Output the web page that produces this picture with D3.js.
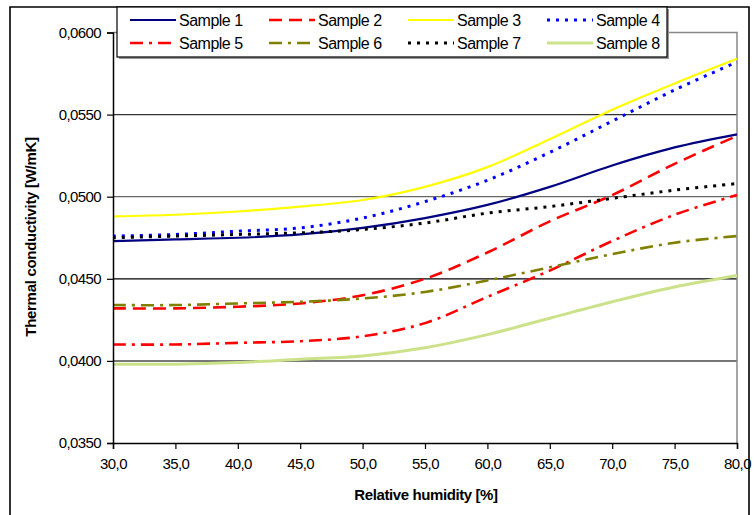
<!DOCTYPE html>
<html>
<head>
<meta charset="utf-8">
<style>
body { margin: 0; background: #fff; }
svg { font-family: "Liberation Sans", Arial, sans-serif; }
.tick text { font-size: 15px; fill: #000; }
</style>
</head>
<body>
<svg id="viz"></svg>
<script src="https://cdn.jsdelivr.net/npm/d3@7/dist/d3.min.js"></script>
<script>
var width = 754;
var height = 515;

// data
var humidity = [30, 35, 40, 45, 50, 55, 60, 65, 70, 75, 80];
var sampleNames = ["Sample 1", "Sample 2", "Sample 3", "Sample 4", "Sample 5", "Sample 6", "Sample 7", "Sample 8"];
var sample1 = [0.0473, 0.0474, 0.0475, 0.0477, 0.0481, 0.0487, 0.0495, 0.0506, 0.0519, 0.0530, 0.0538];
var sample2 = [0.0432, 0.0432, 0.0433, 0.0435, 0.0440, 0.0450, 0.0466, 0.0485, 0.0501, 0.0520, 0.0537];
var sample3 = [0.0488, 0.0489, 0.0491, 0.0494, 0.0498, 0.0506, 0.0518, 0.0535, 0.0553, 0.0569, 0.0584];
var sample4 = [0.0476, 0.0477, 0.0479, 0.0481, 0.0487, 0.0497, 0.0510, 0.0527, 0.0546, 0.0565, 0.0582];
var sample5 = [0.0410, 0.0410, 0.0411, 0.0412, 0.0415, 0.0423, 0.0439, 0.0455, 0.0473, 0.0489, 0.0501];
var sample6 = [0.0434, 0.0434, 0.0435, 0.0436, 0.0438, 0.0442, 0.0449, 0.0457, 0.0465, 0.0472, 0.0476];
var sample7 = [0.0475, 0.0476, 0.0477, 0.0478, 0.0480, 0.0484, 0.0490, 0.0494, 0.0499, 0.0504, 0.0508];
var sample8 = [0.0398, 0.0398, 0.0399, 0.0401, 0.0403, 0.0408, 0.0416, 0.0426, 0.0436, 0.0445, 0.0452];
var xTicks = [30, 35, 40, 45, 50, 55, 60, 65, 70, 75, 80];
var yTicks = [0.035, 0.040, 0.045, 0.050, 0.055, 0.060];

// styles
var colors = ["#000080", "#ff0000", "#ffff00", "#0000ff", "#ff0000", "#808000", "#000000", "#cce28a"];
var dashes = [null, "13,7", null, "3,6", "13,6,3,6", "13,6,3,6", "3,6", null];
var widths = [2.2, 2.6, 2.2, 3, 2.6, 2.6, 3, 3];

var allSamples = [sample1, sample2, sample3, sample4, sample5, sample6, sample7, sample8];

var svg = d3.select("#viz").attr("width", width).attr("height", height);

// outer chart frame
svg.append("path")
    .attr("d", "M10,515 L10,7 L749,7 L749,515")
    .attr("fill", "none")
    .attr("stroke", "#000")
    .attr("stroke-width", 1.6);

var plotL = 113, plotR = 737, plotT = 32.5, plotB = 443;

var x = d3.scaleLinear().domain([30, 80]).range([plotL, plotR]);
var y = d3.scaleLinear().domain([0.035, 0.060]).range([plotB, plotT]);

// gridlines
var gridColors = ["#777", "#000", "#666", "#333"];
svg.append("g").selectAll("line")
    .data(yTicks.slice(1, 5))
    .enter().append("line")
    .attr("x1", plotL).attr("x2", plotR)
    .attr("y1", function(d) { return y(d); })
    .attr("y2", function(d) { return y(d); })
    .attr("stroke", function(d, i) { return gridColors[i]; })
    .attr("stroke-width", function(d, i) { return i == 0 ? 2 : 1.3; });

// plot area top/right border
svg.append("path")
    .attr("d", "M" + plotL + "," + plotT + " L" + plotR + "," + plotT + " L" + plotR + "," + plotB)
    .attr("fill", "none")
    .attr("stroke", "#888")
    .attr("stroke-width", 1.5);

// series (smoothed like the spreadsheet)
var line = d3.line()
    .x(function(d, i) { return x(humidity[i]); })
    .y(function(d) { return y(d); })
    .curve(d3.curveCatmullRom.alpha(0.5));

svg.append("g").selectAll("path")
    .data(allSamples)
    .enter().append("path")
    .attr("d", line)
    .attr("fill", "none")
    .attr("stroke", function(d, i) { return colors[i]; })
    .attr("stroke-width", function(d, i) { return widths[i]; })
    .attr("stroke-dasharray", function(d, i) { return dashes[i]; });

// axes
var yAxis = d3.axisLeft(y)
    .tickValues(yTicks)
    .tickSize(6)
    .tickPadding(6)
    .tickFormat(function(d) { return d.toFixed(4).replace(".", ","); });

var xAxis = d3.axisBottom(x)
    .tickValues(xTicks)
    .tickSize(6)
    .tickPadding(9)
    .tickFormat(function(d) { return d.toFixed(1).replace(".", ","); });

var gy = svg.append("g").attr("transform", "translate(" + plotL + ",0)").call(yAxis);
var gx = svg.append("g").attr("transform", "translate(0," + plotB + ")").call(xAxis);
[gx, gy].forEach(function(g) {
    g.select(".domain").attr("stroke", "#000").attr("stroke-width", 1.5);
    g.selectAll(".tick line").attr("stroke", "#000").attr("stroke-width", 1.2);
    g.selectAll(".tick text").attr("font-family", null).attr("font-size", null).style("letter-spacing", "-0.6px");
});

// axis titles
svg.append("text")
    .attr("x", 426).attr("y", 500)
    .attr("text-anchor", "middle")
    .style("font-weight", "bold")
    .style("font-size", "15px")
    .style("letter-spacing", "-0.4px")
    .text("Relative humidity [%]");

svg.append("text")
    .attr("transform", "translate(36,237) rotate(-90)")
    .attr("text-anchor", "middle")
    .style("font-weight", "bold")
    .style("font-size", "15px")
    .style("letter-spacing", "-0.3px")
    .text("Thermal conductivity [W/mK]");

// legend
var legend = svg.append("g");
legend.append("rect")
    .attr("x", 119).attr("y", 9).attr("width", 550).attr("height", 50)
    .attr("fill", "#999");
legend.append("rect")
    .attr("x", 117).attr("y", 7).attr("width", 550).attr("height", 50)
    .attr("fill", "#fff")
    .attr("stroke", "#000")
    .attr("stroke-width", 1.2);

var item = legend.selectAll("g.item")
    .data(sampleNames)
    .enter().append("g")
    .attr("class", "item")
    .attr("transform", function(d, i) {
        return "translate(" + (130 + (i % 4) * 139) + "," + (i < 4 ? 20 : 43) + ")";
    });

item.append("line")
    .attr("x1", 0).attr("x2", 46)
    .attr("y1", 0).attr("y2", 0)
    .attr("stroke", function(d, i) { return colors[i]; })
    .attr("stroke-width", function(d, i) { return widths[i]; })
    .attr("stroke-dasharray", function(d, i) { return dashes[i]; });

item.append("text")
    .attr("x", 49).attr("y", 5.5)
    .style("font-size", "16px")
    .style("letter-spacing", "-0.5px")
    .text(function(d) { return d; });
</script>
</body>
</html>
